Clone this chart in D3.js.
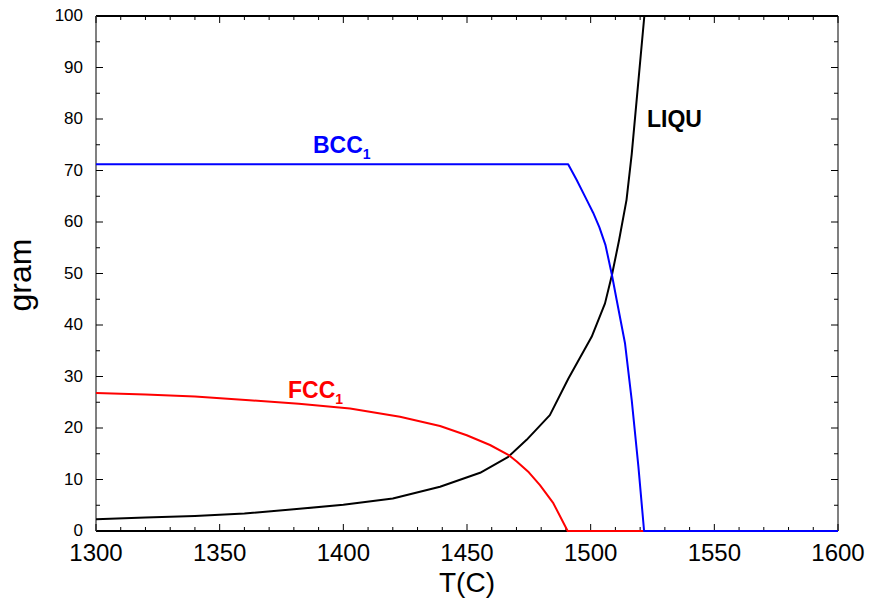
<!DOCTYPE html>
<html>
<head>
<meta charset="utf-8">
<script src="https://cdn.jsdelivr.net/npm/d3@7"></script>
<style>
  body { margin: 0; background: #fff; }
  text { font-family: "Liberation Sans", Arial, sans-serif; }
</style>
</head>
<body>
<div id="chart"></div>
<script>
// phase amounts vs temperature
var bccT = [1300, 1490.9, 1494.3, 1498.4, 1501, 1503.5, 1506, 1508.6, 1510.5, 1513.9, 1516.6, 1519.3, 1521.6, 1600];
var bccG = [71.2, 71.2, 68.2, 64.3, 61.8, 59.0, 55.5, 49.7, 44.9, 36.4, 25.4, 12.5, 0, 0];

var fccT = [1300, 1320, 1340, 1362, 1382, 1402.7, 1422.9, 1439.1, 1449.9, 1459.3, 1466.7, 1470.1, 1475, 1479.5, 1484.9, 1490.7, 1600];
var fccG = [26.8, 26.5, 26.1, 25.4, 24.7, 23.8, 22.2, 20.4, 18.6, 16.7, 14.8, 13.5, 11.4, 8.9, 5.4, 0, 0];

var liqT = [1300, 1320, 1340, 1360, 1380, 1400, 1420, 1439.1, 1455.3, 1466.7, 1474.1, 1483.5, 1491, 1500.4, 1505.8, 1508.6, 1511.5, 1514.5, 1516.6, 1518.6, 1521.7, 1600];
var liqG = [2.3, 2.6, 2.9, 3.4, 4.2, 5.1, 6.3, 8.6, 11.3, 14.4, 17.7, 22.5, 29.6, 37.7, 44.2, 49.7, 56.5, 64.3, 73.2, 83.7, 100, 100];

var xTicks = [1300, 1350, 1400, 1450, 1500, 1550, 1600];
var yTicks = [0, 10, 20, 30, 40, 50, 60, 70, 80, 90, 100];

var W = 869, H = 598;
var margin = {top: 16, right: 31, bottom: 67, left: 96};

var x = d3.scaleLinear().domain([1300, 1600]).range([margin.left, W - margin.right]);
var y = d3.scaleLinear().domain([0, 100]).range([H - margin.bottom, margin.top]);

var svg = d3.select("#chart").append("svg")
	.attr("width", W)
	.attr("height", H);

// frame
svg.append("line").attr("x1", x(1300)).attr("x2", x(1600)).attr("y1", y(0)).attr("y2", y(0))
	.attr("stroke", "#000").attr("stroke-width", 2);
svg.append("line").attr("x1", x(1300)).attr("x2", x(1600)).attr("y1", y(100)).attr("y2", y(100))
	.attr("stroke", "#000").attr("stroke-width", 2);
svg.append("line").attr("x1", x(1300)).attr("x2", x(1300)).attr("y1", y(0)).attr("y2", y(100))
	.attr("stroke", "#808080").attr("stroke-width", 2);
svg.append("line").attr("x1", x(1600)).attr("x2", x(1600)).attr("y1", y(0)).attr("y2", y(100))
	.attr("stroke", "#808080").attr("stroke-width", 2);

// minor ticks inward
var minorX = d3.range(1300, 1601, 10);
var minorY = d3.range(0, 101, 5);

var tg = svg.append("g").attr("stroke", "#000").attr("stroke-width", 1);

tg.selectAll(".xb").data(minorX).enter().append("line")
	.attr("x1", function(d){ return x(d); }).attr("x2", function(d){ return x(d); })
	.attr("y1", y(0)).attr("y2", function(d){ return y(0) - (d % 50 == 0 ? 7 : 4); });
tg.selectAll(".xt").data(minorX).enter().append("line")
	.attr("x1", function(d){ return x(d); }).attr("x2", function(d){ return x(d); })
	.attr("y1", y(100)).attr("y2", function(d){ return y(100) + (d % 50 == 0 ? 7 : 4); });
tg.selectAll(".yl").data(minorY).enter().append("line")
	.attr("y1", function(d){ return y(d); }).attr("y2", function(d){ return y(d); })
	.attr("x1", x(1300)).attr("x2", function(d){ return x(1300) + (d % 10 == 0 ? 7 : 4); });
tg.selectAll(".yr").data(minorY).enter().append("line")
	.attr("y1", function(d){ return y(d); }).attr("y2", function(d){ return y(d); })
	.attr("x1", x(1600)).attr("x2", function(d){ return x(1600) - (d % 10 == 0 ? 7 : 4); });

// curves
var line = d3.line()
	.x(function(d){ return x(d[0]); })
	.y(function(d){ return y(d[1]); });

function series(T, G, color) {
	svg.append("path")
		.datum(d3.zip(T, G))
		.attr("fill", "none")
		.attr("stroke", color)
		.attr("stroke-width", 2)
		.attr("stroke-linejoin", "round")
		.attr("d", line);
}
series(liqT, liqG, "#000");
series(fccT, fccG, "#ff0000");
series(bccT, bccG, "#0000ff");

// tick labels
svg.selectAll(".xl").data(xTicks).enter().append("text")
	.attr("x", function(d){ return x(d); })
	.attr("y", y(0) + 30)
	.attr("text-anchor", "middle")
	.attr("font-size", 24)
	.text(function(d){ return d; });

svg.selectAll(".yl2").data(yTicks).enter().append("text")
	.attr("x", x(1300) - 13)
	.attr("y", function(d){ return y(d) + 5; })
	.attr("text-anchor", "end")
	.attr("font-size", 17)
	.text(function(d){ return d; });

// axis titles
svg.append("text")
	.attr("x", (x(1300) + x(1600)) / 2)
	.attr("y", 592)
	.attr("text-anchor", "middle")
	.attr("font-size", 28)
	.text("T(C)");

svg.append("text")
	.attr("transform", "translate(31,275) rotate(-90)")
	.attr("text-anchor", "middle")
	.attr("font-size", 32)
	.text("gram");

// phase labels
function label(px, py, name, sub, color) {
	var t = svg.append("text")
		.attr("x", px).attr("y", py)
		.attr("fill", color)
		.attr("font-size", 23)
		.attr("font-weight", "bold");
	t.append("tspan").text(name);
	if (sub) t.append("tspan").attr("font-size", 14).attr("dy", 6).text(sub);
}
label(313, 153, "BCC", "1", "#0000ff");
label(288, 398, "FCC", "1", "#ff0000");
label(647, 127, "LIQU", null, "#000");
</script>
</body>
</html>
